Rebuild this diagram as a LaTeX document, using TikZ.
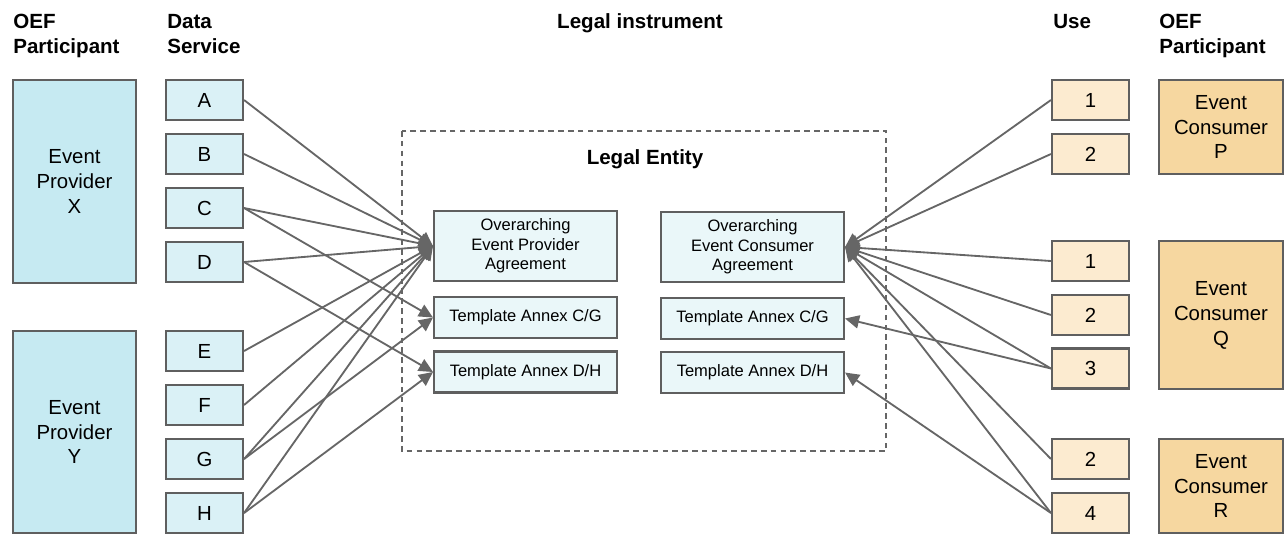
\documentclass[tikz,border=0pt]{standalone}
\usepackage{fontspec}
\setmainfont{Liberation Sans}
\usetikzlibrary{arrows.meta}

\definecolor{provfill}{HTML}{C6EAF2}
\definecolor{svcfill}{HTML}{DAF1F6}
\definecolor{agrfill}{HTML}{EAF7F9}
\definecolor{usefill}{HTML}{FCEBD0}
\definecolor{consfill}{HTML}{F6D7A0}
\definecolor{boxline}{HTML}{5F5F5F}
\definecolor{linkline}{HTML}{666666}

\tikzset{
	box/.style={draw=boxline, line width=1.2pt, inner sep=0pt, align=center,
		font=\fontsize{11.6}{14.2}\selectfont},
	prov/.style={box, fill=provfill, minimum width=2.46cm, minimum height=4.05cm},
	svc/.style={box, fill=svcfill, minimum width=1.54cm, minimum height=0.8cm},
	agr/.style={box, fill=agrfill, minimum width=3.66cm, minimum height=1.4cm,
		font=\fontsize{9.4}{11}\selectfont},
	annex/.style={agr, minimum height=0.82cm},
	usebox/.style={box, fill=usefill, minimum width=1.54cm, minimum height=0.8cm},
	cons/.style={box, fill=consfill, minimum width=2.48cm},
	hdr/.style={inner sep=0pt, align=left, anchor=north west,
		font=\fontsize{11.7}{14.2}\selectfont\bfseries},
	link/.style={draw=linkline, line width=1.05pt,
		-{Triangle[length=8pt, width=7.5pt]}},
	entity/.style={draw=linkline, line width=0.9pt, dash pattern=on 3.2pt off 2.4pt}
}

\begin{document}
\begin{tikzpicture}[x=0.02cm, y=-0.02cm]
	\useasboundingbox (0,0) rectangle (1287,539);

	% column headings
	\node[hdr] (hprovider) at (13, 14) {OEF\\Participant};
	\node[hdr] (hservice) at (167, 14) {Data\\Service};
	\node[hdr, anchor=base] (hlegal) at (640, 28) {Legal instrument};
	\node[hdr, anchor=base west] (huse) at (1053, 28) {Use};
	\node[hdr] (hconsumer) at (1159, 14) {OEF\\Participant};

	% legal entity
	\draw[entity] (402, 131) rectangle (886, 451);
	\node[hdr, anchor=base] (hentity) at (645, 164) {Legal Entity};

	% providers and their services
	\node[prov] (provx) at (74.5, 181.5) {Event\\Provider\\X};
	\node[prov] (provy) at (74.5, 432) {Event\\Provider\\Y};

	\node[svc] (a) at (204.5, 100) {A};
	\node[svc] (b) at (204.5, 154) {B};
	\node[svc] (c) at (204.5, 208) {C};
	\node[svc] (d) at (204.5, 262) {D};
	\node[svc] (e) at (204.5, 351) {E};
	\node[svc] (f) at (204.5, 405) {F};
	\node[svc] (g) at (204.5, 459) {G};
	\node[svc] (h) at (204.5, 513) {H};

	% agreements
	\node[agr] (epa) at (525.5, 246) {Overarching\\Event Provider\\Agreement};
	\node[annex] (epcg) at (525.5, 317.5) {Template Annex C/G};
	\node[annex] (epdh) at (525.5, 372) {Template Annex D/H};

	\node[agr] (eca) at (752.5, 247) {Overarching\\Event Consumer\\Agreement};
	\node[annex] (eccg) at (752.5, 318.5) {Template Annex C/G};
	\node[annex] (ecdh) at (752.5, 372.5) {Template Annex D/H};

	% uses and consumers
	\node[usebox] (p1) at (1090.5, 100) {1};
	\node[usebox] (p2) at (1090.5, 154) {2};
	\node[usebox] (q1) at (1090.5, 261) {1};
	\node[usebox] (q2) at (1090.5, 315) {2};
	\node[usebox] (q3) at (1090.5, 368.5) {3};
	\node[usebox] (r2) at (1090.5, 459) {2};
	\node[usebox] (r4) at (1090.5, 513) {4};

	\node[cons, minimum height=1.88cm] (consp) at (1221, 127) {Event\\Consumer\\P};
	\node[cons, minimum height=2.96cm] (consq) at (1221, 315) {Event\\Consumer\\Q};
	\node[cons, minimum height=1.88cm] (consr) at (1221, 486) {Event\\Consumer\\R};

	% links
	\foreach \s in {a,b,c,d,e,f,g,h}
		\draw[link] (\s.east) -- (epa.west);
	\draw[link] (c.east) -- (epcg.west);
	\draw[link] (g.east) -- (epcg.west);
	\draw[link] (d.east) -- (epdh.west);
	\draw[link] (h.east) -- (epdh.west);

	\foreach \u in {p1,p2,q1,q2,q3,r2,r4}
		\draw[link] (\u.west) -- (eca.east);
	\draw[link] (q3.west) -- (eccg.east);
	\draw[link] (r4.west) -- (ecdh.east);
\end{tikzpicture}
\end{document}
